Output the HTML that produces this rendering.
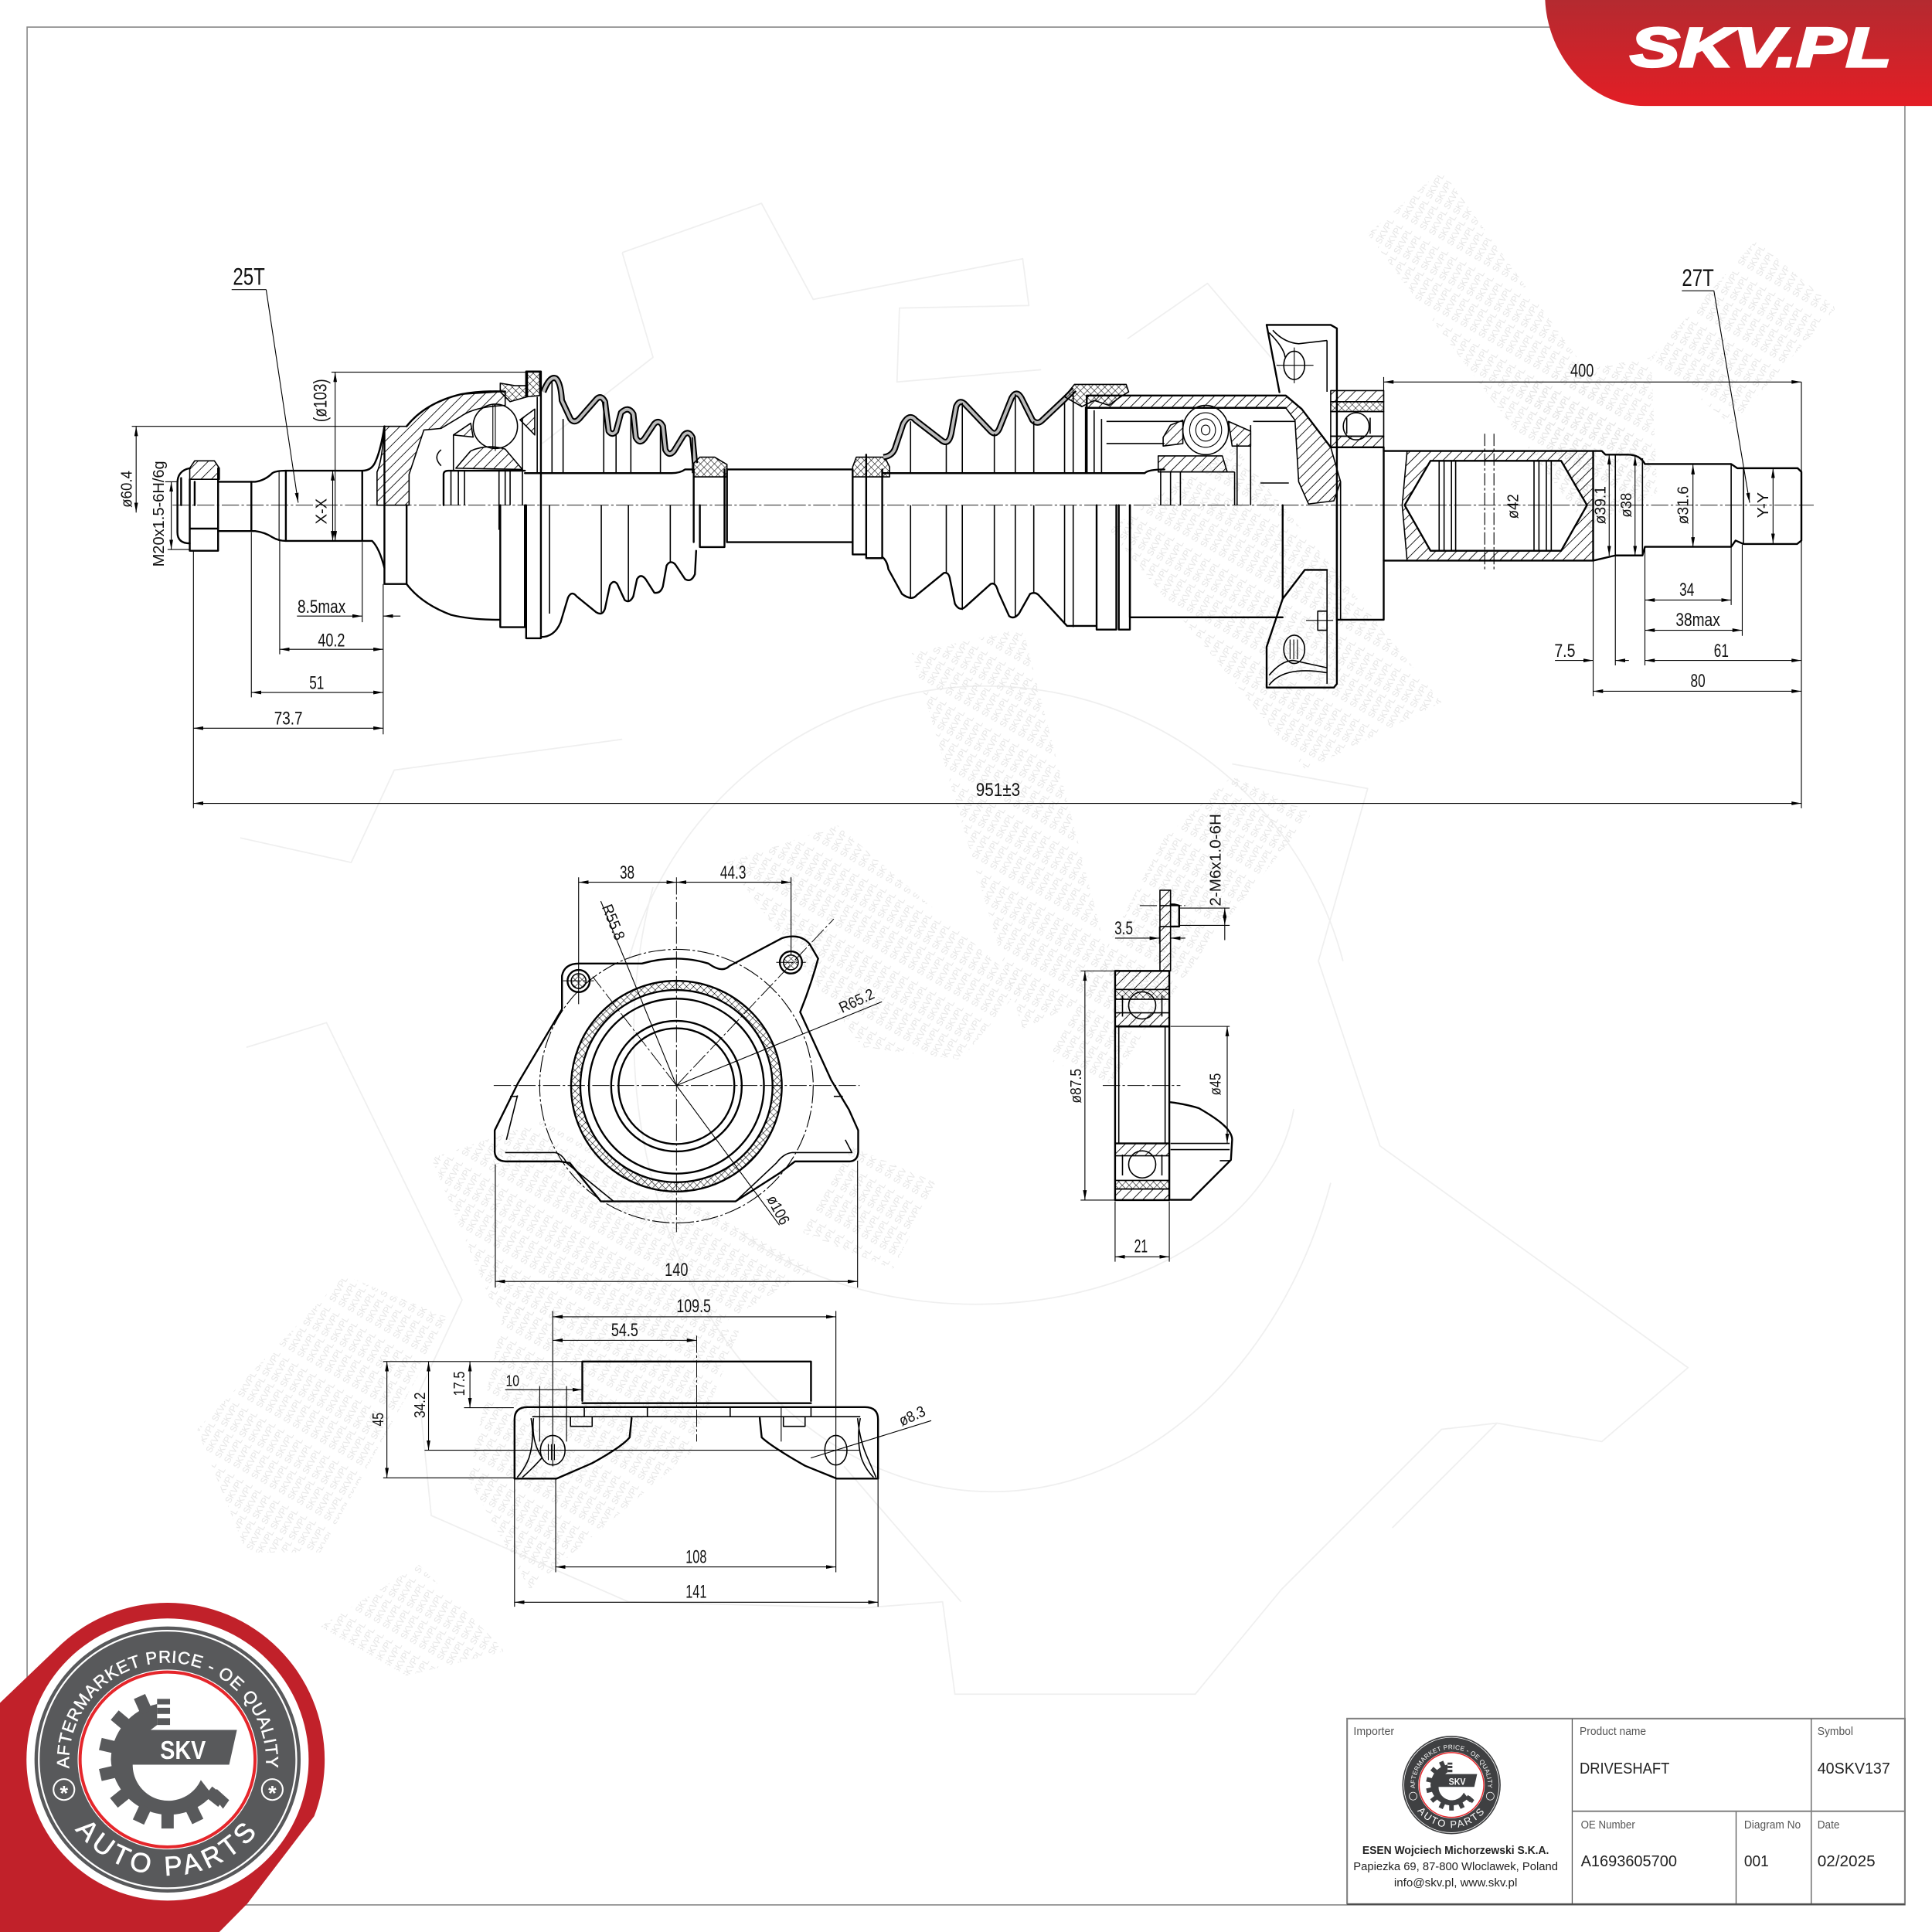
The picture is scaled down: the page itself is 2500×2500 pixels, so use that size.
<!DOCTYPE html>
<html><head><meta charset="utf-8"><style>
html,body{margin:0;padding:0;background:#fff}
svg{display:block}
text{font-family:"Liberation Sans",sans-serif}
.t{stroke:#000;stroke-width:.7;fill:none}
.k{stroke:#000;stroke-width:1.5;fill:none;stroke-linejoin:round;stroke-linecap:round}
.m{stroke:#000;stroke-width:1;fill:none;stroke-linejoin:round}
.a{stroke:#000;stroke-width:.7;fill:none;marker-start:url(#ar);marker-end:url(#ar)}
.e{stroke:#000;stroke-width:.7;fill:none;marker-end:url(#ar)}
.c{stroke:#000;stroke-width:.6;fill:none;stroke-dasharray:14 2 2 2}
.h{fill:url(#hatch);stroke:#000;stroke-width:1;stroke-linejoin:round}
.x{fill:url(#cross);stroke:#000;stroke-width:1;stroke-linejoin:round}
.d{font-size:15px;fill:#111;text-anchor:middle}
.s{font-size:12.5px;fill:#111;text-anchor:middle}
.g{fill:none;stroke:#efefef;stroke-width:1.1;stroke-linejoin:round}
.l{font-size:9.5px;fill:#555}
.v{font-size:12.5px;fill:#222}
</style></head><body>
<svg xmlns="http://www.w3.org/2000/svg" width="2500" height="2500" viewBox="0 0 1568 1568">
<defs>
<pattern id="hatch" width="6" height="6" patternUnits="userSpaceOnUse" patternTransform="rotate(45)"><rect width="6" height="6" fill="#fff" fill-opacity="0"/><line x1="0" y1="0" x2="0" y2="6" stroke="#000" stroke-width="1.1"/></pattern>
<pattern id="cross" width="4" height="4" patternUnits="userSpaceOnUse" patternTransform="rotate(45)"><line x1="0" y1="0" x2="0" y2="4" stroke="#000" stroke-width=".7"/><line x1="0" y1="0" x2="4" y2="0" stroke="#000" stroke-width=".7"/></pattern>
<pattern id="wm" width="52" height="8.500" patternUnits="userSpaceOnUse" patternTransform="rotate(-60)"><text x="0" y="7" font-size="7" fill="#e4e4e4">SKVPL SKVPL</text></pattern>
<marker id="ar" viewBox="0 0 8 3" refX="8" refY="1.5" markerWidth="8" markerHeight="3" markerUnits="userSpaceOnUse" orient="auto-start-reverse"><path d="M0,0 L8,1.5 L0,3 Z" fill="#000"/></marker>
<linearGradient id="rg" x1="0" y1="0" x2="0" y2="1"><stop offset="0" stop-color="#b42a30"/><stop offset="1" stop-color="#e31e25"/></linearGradient>
<path id="arcT" d="M57,1442 A80,80 0 1 1 215,1442"/>
<path id="arcB" d="M42,1428 A94,94 0 0 0 230,1428"/>
</defs>
<rect width="1568" height="1568" fill="#fff"/>

<!-- watermark gear -->
<path class="g" d="M505,205 L618,165 L660,243 L830,210 L835,248 L730,250 L728,310 L845,300 M915,275 L980,230 L1040,300 M1000,620 L1110,640 L1070,780 L1120,930 L1370,1110 L1300,1170 L1215,1155 L1170,1160 L1040,1290 L970,1375 L775,1375 L765,1300 L700,1305 L510,1300 M505,205 L530,290 L440,360 M195,680 L285,700 L320,625 L505,600 M200,850 L265,830 L375,1055 L340,1130 L350,1230 L510,1300"/>
<path class="g" d="M510,780 A300,300 0 0 1 1090,780 M530,720 A290,370 0 0 0 1080,960"/>
<path class="g" d="M600,1000 A260,180 0 0 0 1050,900 M1130,1240 L1215,1155 M685,1190 L780,1300"/>

<!-- watermark text -->
<g>
<polygon fill="url(#wm)" points="1110,190 1170,138 1345,380 1290,430"/>
<polygon fill="url(#wm)" points="1340,290 1425,195 1490,250 1405,345"/>
<polygon fill="url(#wm)" points="1230,310 1340,290 1345,400 1290,430"/>
<polygon fill="url(#wm)" points="900,430 1000,360 1170,570 1060,625"/>
<polygon fill="url(#wm)" points="740,530 830,510 905,800 830,835"/>
<polygon fill="url(#wm)" points="945,680 1000,630 1065,660 985,760 900,880 850,860"/>
<polygon fill="url(#wm)" points="590,700 680,670 830,800 780,860 700,850"/>
<polygon fill="url(#wm)" points="350,940 440,910 660,1030 560,1090 400,1060"/>
<polygon fill="url(#wm)" points="690,930 760,960 725,1030 650,1000"/>
<polygon fill="url(#wm)" points="160,1160 280,1035 365,1070 260,1260 200,1260"/>
<polygon fill="url(#wm)" points="260,1320 340,1270 410,1340 330,1360"/>
<polygon fill="url(#wm)" points="410,1060 600,1080 560,1180 430,1290 380,1200"/>
</g>

<!-- frame -->
<path d="M22,22 H1546 V1546 H22 Z" fill="none" stroke="#888" stroke-width="1"/>

<!-- top-right logo -->
<path d="M1254,0 C1256,45 1290,86 1335,86 H1568 V0 Z" fill="url(#rg)"/>
<text x="1323" y="54" font-size="45" font-weight="bold" font-style="italic" fill="#fff" stroke="#fff" stroke-width="2" textLength="212" lengthAdjust="spacingAndGlyphs">SKV.PL</text>

<!-- SHAFT -->
<line class="c" x1="140" y1="410" x2="1472" y2="410"/>

<!-- left nut and spline -->
<path class="h" d="M154,380 L158,374 H174 L178,380 V389 H154 Z"/>
<path class="k" d="M154,389 V447 H177 V380 M154,429 H177 M158,391 V410"/>
<path class="k" d="M154,380 Q144,382 144,392 V432 Q144,441 154,441 M147,388 V410"/>
<path class="k" d="M177,391 H204 M177,431 H204 M204,391 V431"/>
<path class="k" d="M204,391 H207 Q215,390 221,384 Q224,382 232,382 H294 Q302,382 305,374 Q309,365 312,346 M204,431 H207 Q215,432 221,436 Q226,439 232,439 H294 H302 Q308,445 312,461"/>
<path class="k" d="M232,382 V439 M294,382 V439"/>
<path class="t" d="M226.500,382 V439"/>

<!-- bell -->
<path class="h" d="M312,346 H330 Q345,327 374,320 L410,317.700 V329 Q385,330 374,338 L358,347.700 L344,349 L332,385 V410 H306 V383 Q310,375 312,346 Z"/>
<path class="k" d="M312,346 V474 H330 M330,410 V474 M330,346 Q345,327 374,320 Q390,317 410,317.700 M330,474 Q342,490 366,499 Q382,503 406,503"/>
<ellipse class="m" cx="402" cy="346" rx="18" ry="18"/>
<path class="t" d="M400,328 V364 M402,328 V366"/>
<path class="h" d="M370,380 L382,366 Q395,360 410,364.500 L424,381 Z"/>
<path class="h" d="M422,340.700 L434,332 V353 Z"/>
<path class="h" d="M368,353 L382,343.500 L384,354.700 Z"/>
<path class="m" d="M368,353 V382 M424,340 V382 M358,365 Q351,371 358,378"/>
<path class="k" d="M360,410 V385 Q360,382 364,382 H426"/>
<path class="m" d="M366,382 V410 M372,382 V410 M377,382 V410 M410,382 V410 M414,382 V410 M424,382 V410 M405,382 V430"/>
<path class="k" d="M406,410 V509 H426 V410 M427,410 V518 H439 V301.500 H427 V322"/>
<path class="x" d="M428,302 H438 V321 L428,322 Z"/>
<path class="x" d="M406,311 L418,313 H428 V322 L414,326 L406,318 Z"/>

<!-- left boot -->
<path d="M441,318 Q446,305 451,307 Q455,310 456,325 L463,340 Q466,344 470,340 L484,324 Q488,320 491,326 L494,350 Q497,354 500,350 L504,335 Q510,329 514,336 L516,355 Q519,361 523,356 L531,344 Q535,340 538,346 L540,365 Q543,371 547,366 L555,353 Q559,349 562,355 L564,376" fill="none" stroke="#000" stroke-width="5" stroke-linejoin="round"/>
<path d="M441,318 Q446,305 451,307 Q455,310 456,325 L463,340 Q466,344 470,340 L484,324 Q488,320 491,326 L494,350 Q497,354 500,350 L504,335 Q510,329 514,336 L516,355 Q519,361 523,356 L531,344 Q535,340 538,346 L540,365 Q543,371 547,366 L555,353 Q559,349 562,355 L564,376" fill="none" stroke="#bbb" stroke-width="2.400" stroke-linejoin="round"/>
<path class="k" d="M439,517 Q450,517 455,505 L461,485 Q464,479 468,484 L484,497 Q489,500 491,494 L495,475 Q498,470 501,474 L507,487 Q511,490 514,484 L517,470 Q520,465 524,470 L531,481 Q536,482 538,476 L541,459 Q544,454 548,458 L556,470 Q561,473 564,466 L565,447"/>
<path class="k" d="M426,384 H545 Q552,384 556,381 H563"/>
<path class="m" d="M436,322 V384 M448,310 V384 M457,340 V384 M490,326 V384 M500,352 V384 M512,336 V384 M536,346 V384 M562,355 V384"/>
<path class="m" d="M446,410 V498 M488,410 V497 M510,410 V488 M544,410 V456"/>
<path class="x" d="M563,376 L568,371 H580 L590,377 V387 H563 Z"/>
<path class="k" d="M563,381 V440 M568,410 V444 H588 V381 M590,381 V440"/>
<path class="k" d="M590,381 H692 M590,440 H692"/>

<!-- right boot collars -->
<path class="x" d="M692,379 L695,371 H718 L722,379 V387 H692 Z"/>
<path class="k" d="M692,381 V450 H703 M703,369 V453 H716 V381 M716,384 H737"/>
<path d="M717,371 Q725,370 727,362 L733,344 Q738,335 743,341 L765,358 Q770,361 772,352 L776,330 Q779,323 784,329 L804,350 Q808,354 811,348 L821,323 Q825,316 829,323 L838,341 Q842,345 846,341 L864,324 L872,316" fill="none" stroke="#000" stroke-width="5" stroke-linejoin="round"/>
<path d="M717,371 Q725,370 727,362 L733,344 Q738,335 743,341 L765,358 Q770,361 772,352 L776,330 Q779,323 784,329 L804,350 Q808,354 811,348 L821,323 Q825,316 829,323 L838,341 Q842,345 846,341 L864,324 L872,316" fill="none" stroke="#bbb" stroke-width="2.400" stroke-linejoin="round"/>
<path class="k" d="M716,452 Q720,455 721,462 L732,482 Q740,488 744,483 L766,465 Q770,464 771,470 L775,490 Q779,497 784,492 L804,474 Q808,472 810,480 L819,500 Q823,503 827,498 L836,482 Q840,480 843,483 L866,508 H890 V511 H906 V410 M908,410 V511 H917 V410 M890,510 V410"/>
<path class="k" d="M737,384 H881 M881,384 H929 Q932,381 945,381"/>
<path class="m" d="M739,342 V384 M768,360 V384 M781,327 V384 M807,352 V384 M824,320 V384 M839,342 V384 M864,326 V384 M871,318 V384 M881,330 V384"/>
<path class="m" d="M739,410 V486 M768,410 V465 M781,410 V495 M807,410 V474 M824,410 V501 M839,410 V482 M864,410 V506 M871,410 V509"/>
<path class="x" d="M864,322 L872,312 H914 L916,318 L908,323 L900,329 L888,325 L878,330 Z"/>

<!-- housing -->
<path class="h" d="M882,321 H1043.500 L1056.500,332 L1080,363 L1088,391 L1082.500,406.500 L1062,409 L1054,391 L1051,341 L1043.500,331 H882 Z"/>
<path class="k" d="M882,321 H1043.500 L1056.500,332 L1080,363 M882,331 H1043.500 M882,321 V384"/>
<path class="m" d="M888,333 V384 M894,340 V384 M898,342 H960 M898,360 H945 M1017,342 H1051 M1023,392 H1046"/>
<ellipse class="m" cx="978.500" cy="349" rx="18.500" ry="20"/>
<ellipse class="t" cx="978.500" cy="349" rx="13" ry="14"/>
<ellipse class="t" cx="978.500" cy="349" rx="8" ry="9"/>
<ellipse class="t" cx="978.500" cy="349" rx="3.500" ry="4"/>
<path class="h" d="M940,370 H992 L996,383 H940 Z"/>
<path class="h" d="M944,355 L950,345 L960,341 V360 L944,362 Z"/>
<path class="h" d="M997,342 L1015,350 V362 H1000 Z"/>
<path class="m" d="M942,383 H1002 M942,383 V410 M950,383 V410 M958,383 V410 M1002,383 V410 M1004,360 V410 M1015,345 V410"/>
<path class="k" d="M917,501 H1041 M1041,410 V486 M917,410 V501"/>

<!-- flange -->
<path class="k" d="M1028,263.700 H1080 L1085,266.500 V555 L1082.600,558 H1028 V525 L1041,486 L1059,462.500 H1077"/>
<path class="k" d="M1028,263.700 L1038.400,318.300"/>
<path class="m" d="M1077,276.300 V318 M1033,268 Q1042,278 1054,279 L1077,276.300 M1030,270 Q1042,282 1043,290 M1077,462.500 V555 M1030,548 Q1040,536 1050,536 L1077,542 M1030,556 Q1042,540 1077,546"/>
<ellipse class="m" cx="1050.400" cy="296.500" rx="8.500" ry="11.500"/>
<ellipse class="m" cx="1050.400" cy="527" rx="8.500" ry="11.500"/>
<path class="t" d="M1036,296.500 H1066 M1050.400,282 V311 M1047,519 V535 M1050,519 V535 M1053,519 V535"/>
<rect class="m" x="1069.500" y="496" width="7.500" height="15.500"/>
<path class="t" d="M1060,503.500 H1082"/>

<!-- bearing -->
<rect class="h" x="1080" y="317" width="43" height="9"/>
<rect class="x" x="1080" y="326" width="43" height="8"/>
<rect class="m" x="1080" y="334" width="43" height="20"/>
<rect class="h" x="1080" y="354" width="43" height="9"/>
<ellipse class="m" cx="1100.700" cy="346" rx="10.500" ry="11"/>
<path class="k" d="M1085,410 V503 H1123 V363 M1123,363 H1080"/>
<path class="m" d="M1088,391 V503 M1093,339 V352 M1112,339 V352"/>

<!-- hub -->
<path class="h" fill-rule="evenodd" d="M1142,366 H1293 V455 H1142 L1138,410 Z M1161,374 H1267 L1288,410 L1267,447 H1161 L1140,410 Z"/>
<path class="k" d="M1123,366 H1293 M1123,455 H1293"/>
<path class="k" d="M1161,374 H1267 L1288,410 L1267,447 H1161 L1140,410 Z"/>
<path class="m" d="M1168,374 V447 M1172,374 V447 M1178,374 V447 M1181.400,374 V447 M1245,374 V447 M1249,374 V447 M1255,374 V447 M1259,374 V447"/>
<path class="t" d="M1205,352 V464 M1212.500,352 V464" stroke-dasharray="10 2 2 2"/>
<path class="k" d="M1293,366 H1300 L1303,369 H1321 Q1331,369 1335,376.600 H1405 L1410,380 H1459 L1462,383 V438.700 L1458.500,441.500 H1415 L1408.600,438.700 L1405,443.800 H1335 L1333,450.800 H1311 L1293,455 V366"/>
<path class="m" d="M1311,369 V451 M1333,372 V451 M1405,376.600 V443.800 M1415,380 V441"/>

<!-- shaft dimensions -->
<line class="t" x1="216" y1="235" x2="188" y2="235"/><line class="e" x1="216" y1="235" x2="242" y2="408"/>
<text x="202" y="231" font-size="20" fill="#111" text-anchor="middle" textLength="26" lengthAdjust="spacingAndGlyphs">25T</text>
<line class="t" x1="1391" y1="236" x2="1365" y2="236"/><line class="e" x1="1391" y1="236" x2="1420" y2="408"/>
<text x="1378" y="232" font-size="20" fill="#111" text-anchor="middle" textLength="26" lengthAdjust="spacingAndGlyphs">27T</text>

<path class="t" d="M107,346 H312 M269,302 H428 M157,447 V656 M204,432 V566 M227,439 V531 M294,440 V505 M311,474 V596 M1462,310 V656 M1123,306 V366 M134,391 H144 M136,446 H154"/>
<line class="a" x1="110.500" y1="346" x2="110.500" y2="416"/>
<line class="a" x1="272" y1="302" x2="272" y2="439"/>
<line class="a" x1="270" y1="382" x2="270" y2="439"/>
<line class="a" x1="139" y1="391" x2="139" y2="446"/>
<line class="e" x1="241" y1="500" x2="294" y2="500"/><line class="e" x1="325" y1="500" x2="311" y2="500"/>
<line class="a" x1="227" y1="527" x2="311" y2="527"/>
<line class="a" x1="204" y1="562" x2="311" y2="562"/>
<line class="a" x1="157" y1="591" x2="311" y2="591"/>
<line class="a" x1="157" y1="652" x2="1462" y2="652"/>
<line class="a" x1="1123" y1="310" x2="1462" y2="310"/>
<line class="a" x1="1335" y1="487" x2="1405" y2="487"/>
<line class="a" x1="1335" y1="511.500" x2="1414" y2="511.500"/>
<line class="e" x1="1262" y1="536" x2="1293" y2="536"/><line class="e" x1="1322" y1="536" x2="1311" y2="536"/>
<line class="a" x1="1335" y1="536" x2="1462" y2="536"/>
<line class="a" x1="1293" y1="561" x2="1462" y2="561"/>
<path class="t" d="M1293,455 V565 M1311,451 V540 M1335,444 V540 M1405,444 V491 M1414,442 V516"/>
<line class="a" x1="1306" y1="369" x2="1306" y2="451"/>
<line class="a" x1="1327" y1="370" x2="1327" y2="451"/>
<line class="a" x1="1374" y1="377" x2="1374" y2="444"/>
<line class="a" x1="1439" y1="380" x2="1439" y2="441"/>

<text class="s" transform="translate(107,397) rotate(-90)" textLength="30" lengthAdjust="spacingAndGlyphs">ø60.4</text>
<text class="s" transform="translate(133,417) rotate(-90)" textLength="86" lengthAdjust="spacingAndGlyphs">M20x1.5-6H/6g</text>
<text class="d" transform="translate(265,325) rotate(-90)" font-size="14" textLength="35" lengthAdjust="spacingAndGlyphs">(ø103)</text>
<text class="s" transform="translate(265,415) rotate(-90)" textLength="21" lengthAdjust="spacingAndGlyphs">X-X</text>
<text class="d" x="261" y="497.500" textLength="39" lengthAdjust="spacingAndGlyphs">8.5max</text>
<text class="d" x="269" y="524.700" textLength="22" lengthAdjust="spacingAndGlyphs">40.2</text>
<text class="d" x="257" y="559" textLength="12" lengthAdjust="spacingAndGlyphs">51</text>
<text class="d" x="234" y="588" textLength="23" lengthAdjust="spacingAndGlyphs">73.7</text>
<text class="d" x="810" y="646" textLength="36" lengthAdjust="spacingAndGlyphs">951±3</text>
<text class="d" x="1284" y="305.700" textLength="19" lengthAdjust="spacingAndGlyphs">400</text>
<text class="d" x="1369" y="483.500" textLength="12" lengthAdjust="spacingAndGlyphs">34</text>
<text class="d" x="1378" y="508" textLength="36" lengthAdjust="spacingAndGlyphs">38max</text>
<text class="d" x="1270" y="533" textLength="17" lengthAdjust="spacingAndGlyphs">7.5</text>
<text class="d" x="1397" y="533" textLength="12" lengthAdjust="spacingAndGlyphs">61</text>
<text class="d" x="1378" y="557.700" textLength="12" lengthAdjust="spacingAndGlyphs">80</text>
<text class="s" transform="translate(1232,411) rotate(-90)" textLength="20" lengthAdjust="spacingAndGlyphs">ø42</text>
<text class="s" transform="translate(1303,410) rotate(-90)" textLength="31" lengthAdjust="spacingAndGlyphs">ø39.1</text>
<text class="s" transform="translate(1324,410) rotate(-90)" textLength="20" lengthAdjust="spacingAndGlyphs">ø38</text>
<text class="s" transform="translate(1370,410) rotate(-90)" textLength="31" lengthAdjust="spacingAndGlyphs">ø31.6</text>
<text class="s" transform="translate(1435,410) rotate(-90)" textLength="21" lengthAdjust="spacingAndGlyphs">Y-Y</text>

<!-- FRONT VIEW -->
<path class="k" d="M470,782 H521 Q549,774 575,782 Q586,790 592,784 L634.700,761.400 Q649,757 657,766 L664,778 Q658,800 649.400,821.400 L674.600,876.600 L689,900.600 L696.500,917.400 V935 Q696,942 690,942.600 H645.200 L632.600,952.200 L597,975 H487.600 L462.400,943.800 L454,942.600 H410 Q402,942 401.500,935 V917.400 L420.400,879 L456.100,819 V792 Q458,782 470,782 Z"/>
<path class="m" d="M410,935.400 H449.800 Q456,936 460,944 L498,975 M411,925 L420,889 M414,889.800 H420.400 M676.700,889.800 H684 M686,925 L691.400,935.400 H643.100 Q636,936 630,944 L597,975"/>
<circle cx="549" cy="881.500" r="111" fill="none" stroke="#000" stroke-width=".7" stroke-dasharray="14 2 2 2"/>
<path fill="url(#cross)" fill-rule="evenodd" stroke="#000" stroke-width="1.500" d="M463.500,881.500 a85.500,85.500 0 1 0 171,0 a85.500,85.500 0 1 0 -171,0 Z M471,881.500 a78,78 0 1 0 156,0 a78,78 0 1 0 -156,0 Z"/>
<circle class="k" cx="549" cy="881.500" r="71"/>
<circle class="k" cx="549" cy="881.500" r="53"/>
<circle class="k" cx="549" cy="881.500" r="47"/>
<circle class="k" cx="469.600" cy="796.200" r="9"/>
<circle class="x" cx="469.600" cy="796.200" r="6"/>
<circle class="k" cx="641.900" cy="781.100" r="9"/>
<circle class="x" cx="641.900" cy="781.100" r="6"/>
<path class="c" d="M400.700,881 H697.700 M549,712 V1000 M549,881 L676.700,745.800 M549,881 L481,792.600 M457,796 H482 M630,781 H654"/>
<path class="t" d="M469.600,712 V815 M642,712 V775 M402,945 V1045 M696,942 V1045 M549,881 L487.600,731.400 M549,881 L715.800,813 M549,881 L632.600,994.300"/>
<line class="a" x1="469.600" y1="716" x2="549" y2="716"/>
<line class="a" x1="549" y1="716" x2="642" y2="716"/>
<line class="a" x1="402" y1="1040" x2="696" y2="1040"/>
<text class="d" x="509" y="713" textLength="12" lengthAdjust="spacingAndGlyphs">38</text>
<text class="d" x="595" y="713" textLength="21" lengthAdjust="spacingAndGlyphs">44.3</text>
<text class="d" x="549" y="1035.500" textLength="19" lengthAdjust="spacingAndGlyphs">140</text>
<text class="s" transform="translate(494,750) rotate(68)" textLength="30" lengthAdjust="spacingAndGlyphs">R55.8</text>
<text class="s" transform="translate(697,816) rotate(-25)" textLength="30" lengthAdjust="spacingAndGlyphs">R65.2</text>
<text class="s" transform="translate(628,984) rotate(62)" textLength="25" lengthAdjust="spacingAndGlyphs">ø106</text>

<!-- SIDE VIEW -->
<rect class="h" x="905" y="788" width="44" height="15"/>
<rect class="x" x="905" y="803" width="44" height="8"/>
<rect class="h" x="905" y="822" width="44" height="11.400"/>
<rect class="h" x="905" y="928" width="44" height="10"/>
<rect class="x" x="905" y="958" width="44" height="7"/>
<rect class="h" x="905" y="965" width="44" height="9"/>
<path class="k" d="M905,788 V974 H949 V788 Z M905,833 H949 M905,928 H949"/>
<path class="m" d="M908,833 V928 M945.600,833 V928"/>
<circle class="m" cx="927" cy="816" r="11"/>
<circle class="m" cx="927" cy="945" r="11"/>
<path class="m" d="M911,808 V825 M943,808 V825 M911,937 V954 M943,937 V954"/>
<path class="h" d="M941.400,722.500 H950 V788 H941.400 Z"/>
<path class="m" d="M941.400,735 H957 V752 H941.400"/>
<path class="k" d="M950,734 H953 L957,735 V752 H950"/>
<path class="k" d="M950,894.600 Q962,896 973,899.400 Q988,908 994,914 Q1000,920 1000,925 L999,941.400 L966.600,973.800 H950"/>
<path class="m" d="M950,928 H998 M950,933 H998 M990,942 H999"/>
<path class="c" d="M895,881 H958 M925,735 H962 M950,722 V758"/>
<path class="t" d="M877,788 H905 M877,974 H905 M950,833 H998 M905,975 V1024 M949,975 V1024 M957,737 H998 M957,751 H998 M941,752 V766 M950,755 V766"/>
<line class="a" x1="880.500" y1="788" x2="880.500" y2="974"/>
<line class="a" x1="996" y1="833" x2="996" y2="928"/>
<line class="a" x1="905" y1="1020" x2="949" y2="1020"/>
<line class="e" x1="905" y1="761.400" x2="941" y2="761.400"/><line class="e" x1="962" y1="761.400" x2="950" y2="761.400"/>
<line class="a" x1="994" y1="737" x2="994" y2="751"/>
<line class="t" x1="994" y1="751" x2="994" y2="763"/>
<text class="s" transform="translate(877.600,881.400) rotate(-90)" textLength="28" lengthAdjust="spacingAndGlyphs">ø87.5</text>
<text class="s" transform="translate(990.600,880) rotate(-90)" textLength="18" lengthAdjust="spacingAndGlyphs">ø45</text>
<text class="s" transform="translate(990.600,698) rotate(-90)" textLength="75" lengthAdjust="spacingAndGlyphs">2-M6x1.0-6H</text>
<text class="d" x="926" y="1016.400" textLength="11" lengthAdjust="spacingAndGlyphs">21</text>
<text class="d" x="912" y="758.300" textLength="15" lengthAdjust="spacingAndGlyphs">3.5</text>

<!-- BOTTOM VIEW -->
<path class="k" d="M472.600,1105 H658.200 V1137 M472.600,1105 V1137 M472.600,1138.800 H658.200"/>
<path class="k" d="M417.600,1200 V1152 Q417.600,1142 428,1142 H702 Q712.600,1142 712.600,1152 V1200"/>
<path class="m" d="M432,1149.800 H698.200 M474.200,1142 V1149.800 M525.400,1142 V1149.800 M592.600,1142 V1149.800 M658.200,1142 V1149.800"/>
<path class="k" d="M512.600,1150.900 L511,1166.600 Q505,1174 480.600,1187.500 L451.800,1200 H417.600 M616.600,1150.900 L618.200,1166.600 Q626,1174 653.400,1189.600 L679,1200 H712.600"/>
<path class="m" d="M463,1149.800 V1157.600 H480.600 V1149.800 M635.800,1149.800 V1157.600 H653.400 V1149.800"/>
<ellipse class="m" cx="448.600" cy="1177" rx="10" ry="12"/>
<ellipse class="m" cx="678.400" cy="1177" rx="9" ry="12"/>
<path class="m" d="M431,1151 Q434,1168 429.400,1183 Q426,1192 419.800,1199 M433,1151 Q431,1170 440,1183 Q432,1192 424,1199 M698.200,1151 Q695,1168 699,1183 Q702,1192 709,1199 M696,1151 Q698,1170 704,1183 Q708,1192 711,1199"/>
<path class="t" d="M311,1105 H472.600 M344.600,1177 H698 M311,1199.400 H417 M376.600,1142.500 H417 M417.600,1200 V1304 M712.600,1200 V1304 M448.600,1064 V1190 M451,1200 V1276 M678.400,1064 V1276 M438,1125 V1170 M459.800,1125 V1170 M634,1142 V1170 M445,1172 V1185 M447.500,1172 V1185 M450,1172 V1185"/>
<path class="c" d="M565.400,1084 V1170"/>
<line class="a" x1="448.600" y1="1068.700" x2="678.400" y2="1068.700"/>
<line class="a" x1="448.600" y1="1087.800" x2="565.400" y2="1087.800"/>
<line class="a" x1="314" y1="1105" x2="314" y2="1199.400"/>
<line class="a" x1="347.800" y1="1105" x2="347.800" y2="1177"/>
<line class="a" x1="381.400" y1="1105" x2="381.400" y2="1142.500"/>
<line class="e" x1="410" y1="1127.900" x2="472.600" y2="1127.900"/>
<line class="a" x1="450.800" y1="1271.700" x2="678.400" y2="1271.700"/>
<line class="a" x1="417.600" y1="1300.400" x2="712.600" y2="1300.400"/>
<line class="t" x1="658" y1="1183.300" x2="755.800" y2="1153"/>
<text class="d" x="563" y="1065" textLength="28" lengthAdjust="spacingAndGlyphs">109.5</text>
<text class="d" x="507" y="1084.400" textLength="22" lengthAdjust="spacingAndGlyphs">54.5</text>
<text class="d" x="565" y="1268.400" textLength="17" lengthAdjust="spacingAndGlyphs">108</text>
<text class="d" x="565" y="1296.800" textLength="17" lengthAdjust="spacingAndGlyphs">141</text>
<text class="s" x="416" y="1124.800" textLength="11" lengthAdjust="spacingAndGlyphs">10</text>
<text class="s" transform="translate(311,1152) rotate(-90)" textLength="11" lengthAdjust="spacingAndGlyphs">45</text>
<text class="s" transform="translate(345,1140.400) rotate(-90)" textLength="21" lengthAdjust="spacingAndGlyphs">34.2</text>
<text class="s" transform="translate(377,1123) rotate(-90)" textLength="20" lengthAdjust="spacingAndGlyphs">17.5</text>
<text class="s" transform="translate(742,1153) rotate(-25)" textLength="22" lengthAdjust="spacingAndGlyphs">ø8.3</text>

<!-- BADGE -->
<path d="M0,1382 L46,1338 A127.500,127.500 0 0 1 136,1300.800 A127.500,127.500 0 0 1 263.500,1428 A127.500,127.500 0 0 1 255,1474 L200.700,1545 L178,1568 H0 Z" fill="#c1212a"/>
<g>
<circle cx="136" cy="1428" r="114.500" fill="#fff"/>
<circle cx="136" cy="1428" r="108" fill="#58595b"/>
<circle cx="136" cy="1428" r="104.500" fill="none" stroke="#fff" stroke-width="1.400"/>
<circle cx="136" cy="1428" r="73" fill="#fff"/>
<circle cx="136" cy="1428" r="71" fill="none" stroke="#e5262b" stroke-width="2.500"/>
<path fill="#58595b" d="M127.500,1383 A47,47 0 0 0 90,1428 A47,47 0 0 0 176,1452 L186,1461 L181,1468 L163,1444.700 A29,29 0 0 1 107.700,1432.200 H186 L192.300,1404 H122.300 L127.500,1400 Z"/>
<g fill="#58595b">
<rect x="127.500" y="1378.800" width="10.500" height="4.500"/><rect x="127.500" y="1386" width="10.500" height="5"/><rect x="127.500" y="1394.500" width="10.500" height="5.500"/>
<rect x="131" y="1372" width="10" height="14" transform="rotate(-24 136 1428)"/>
<rect x="131" y="1372" width="10" height="14" transform="rotate(-50 136 1428)"/>
<rect x="131" y="1372" width="10" height="14" transform="rotate(-77 136 1428)"/>
<rect x="131" y="1372" width="10" height="14" transform="rotate(-103 136 1428)"/>
<rect x="131" y="1372" width="10" height="14" transform="rotate(-129 136 1428)"/>
<rect x="131" y="1372" width="10" height="14" transform="rotate(-155 136 1428)"/>
<rect x="131" y="1372" width="10" height="14" transform="rotate(180 136 1428)"/>
<rect x="131" y="1372" width="10" height="14" transform="rotate(154 136 1428)"/>
<rect x="131" y="1372" width="10" height="14" transform="rotate(128 136 1428)"/>
</g>
<text x="148.500" y="1427.500" font-size="21" font-weight="bold" fill="#fff" text-anchor="middle" textLength="37" lengthAdjust="spacingAndGlyphs">SKV</text>
<text font-size="14" fill="#fff" stroke="#fff" stroke-width=".3" text-anchor="middle" letter-spacing=".5"><textPath href="#arcT" startOffset="50%">AFTERMARKET  PRICE - OE QUALITY</textPath></text>
<text font-size="22" fill="#fff" stroke="#fff" stroke-width=".4" text-anchor="middle" letter-spacing="3.500"><textPath href="#arcB" startOffset="50%">AUTO PARTS</textPath></text>
<circle cx="51.900" cy="1452.400" r="8.500" fill="none" stroke="#fff" stroke-width="1.300"/>
<circle cx="221" cy="1452.400" r="8.500" fill="none" stroke="#fff" stroke-width="1.300"/>
<text x="51.900" y="1461" font-size="17" font-weight="bold" fill="#fff" text-anchor="middle">*</text>
<text x="221" y="1461" font-size="17" font-weight="bold" fill="#fff" text-anchor="middle">*</text>
</g>

<!-- TITLE BLOCK -->
<rect x="1093.300" y="1394.800" width="452.700" height="150.500" fill="#fff" stroke="#808080" stroke-width="1.300"/>
<path d="M1276,1395 V1545 M1470,1395 V1545 M1409,1470 V1545" stroke="#555" stroke-width=".8" fill="none"/>
<path d="M1276,1470 H1546" stroke="#808080" stroke-width="1.200"/>
<path d="M1093.300,1545.500 H1546" stroke="#444" stroke-width="1"/>
<text class="l" x="1098.500" y="1408" textLength="33" lengthAdjust="spacingAndGlyphs">Importer</text>
<text class="l" x="1282" y="1408" textLength="54" lengthAdjust="spacingAndGlyphs">Product name</text>
<text class="l" x="1475" y="1408" textLength="29" lengthAdjust="spacingAndGlyphs">Symbol</text>
<text class="v" x="1282" y="1439.300" textLength="73" lengthAdjust="spacingAndGlyphs">DRIVESHAFT</text>
<text class="v" x="1475" y="1439.300" textLength="59" lengthAdjust="spacingAndGlyphs">40SKV137</text>
<text class="l" x="1283" y="1484" textLength="44" lengthAdjust="spacingAndGlyphs">OE Number</text>
<text class="l" x="1415.500" y="1484" textLength="46" lengthAdjust="spacingAndGlyphs">Diagram No</text>
<text class="l" x="1475" y="1484" textLength="18" lengthAdjust="spacingAndGlyphs">Date</text>
<text class="v" x="1283" y="1514.600" textLength="78" lengthAdjust="spacingAndGlyphs">A1693605700</text>
<text class="v" x="1415.500" y="1514.600" textLength="20" lengthAdjust="spacingAndGlyphs">001</text>
<text class="v" x="1475" y="1514.600" textLength="47" lengthAdjust="spacingAndGlyphs">02/2025</text>
<text x="1181.400" y="1504.500" font-size="9.500" font-weight="bold" fill="#222" text-anchor="middle" textLength="151.500" lengthAdjust="spacingAndGlyphs">ESEN Wojciech Michorzewski S.K.A.</text>
<text x="1181.400" y="1517.700" font-size="9.500" fill="#222" text-anchor="middle" textLength="166" lengthAdjust="spacingAndGlyphs">Papiezka 69, 87-800 Wloclawek, Poland</text>
<text x="1181.400" y="1530.900" font-size="9.500" fill="#222" text-anchor="middle" textLength="100" lengthAdjust="spacingAndGlyphs">info@skv.pl, www.skv.pl</text>

<g transform="translate(1178,1448.700) scale(.37) translate(-136,-1428)">
<circle cx="136" cy="1428" r="108" fill="#3f4042"/>
<circle cx="136" cy="1428" r="104.500" fill="none" stroke="#fff" stroke-width="1.400"/>
<circle cx="136" cy="1428" r="73" fill="#fff"/>
<circle cx="136" cy="1428" r="71" fill="none" stroke="#e5262b" stroke-width="2.500"/>
<path fill="#3f4042" d="M127.500,1383 A47,47 0 0 0 90,1428 A47,47 0 0 0 176,1452 L186,1461 L181,1468 L163,1444.700 A29,29 0 0 1 107.700,1432.200 H186 L192.300,1404 H122.300 L127.500,1400 Z"/>
<g fill="#3f4042">
<rect x="127.500" y="1378.800" width="10.500" height="4.500"/><rect x="127.500" y="1386" width="10.500" height="5"/><rect x="127.500" y="1394.500" width="10.500" height="5.500"/>
<rect x="131" y="1372" width="10" height="14" transform="rotate(-24 136 1428)"/>
<rect x="131" y="1372" width="10" height="14" transform="rotate(-50 136 1428)"/>
<rect x="131" y="1372" width="10" height="14" transform="rotate(-77 136 1428)"/>
<rect x="131" y="1372" width="10" height="14" transform="rotate(-103 136 1428)"/>
<rect x="131" y="1372" width="10" height="14" transform="rotate(-129 136 1428)"/>
<rect x="131" y="1372" width="10" height="14" transform="rotate(-155 136 1428)"/>
<rect x="131" y="1372" width="10" height="14" transform="rotate(180 136 1428)"/>
<rect x="131" y="1372" width="10" height="14" transform="rotate(154 136 1428)"/>
<rect x="131" y="1372" width="10" height="14" transform="rotate(128 136 1428)"/>
</g>
<text x="148.500" y="1427.500" font-size="21" font-weight="bold" fill="#fff" text-anchor="middle" textLength="37" lengthAdjust="spacingAndGlyphs">SKV</text>
<text font-size="14" fill="#fff" text-anchor="middle" letter-spacing=".5"><textPath href="#arcT" startOffset="50%">AFTERMARKET  PRICE - OE QUALITY</textPath></text>
<text font-size="22" fill="#fff" text-anchor="middle" letter-spacing="3.500"><textPath href="#arcB" startOffset="50%">AUTO PARTS</textPath></text>
<circle cx="51.900" cy="1452.400" r="8.500" fill="none" stroke="#fff" stroke-width="1.300"/>
<circle cx="221" cy="1452.400" r="8.500" fill="none" stroke="#fff" stroke-width="1.300"/>
</g>
</svg>
</body></html>
